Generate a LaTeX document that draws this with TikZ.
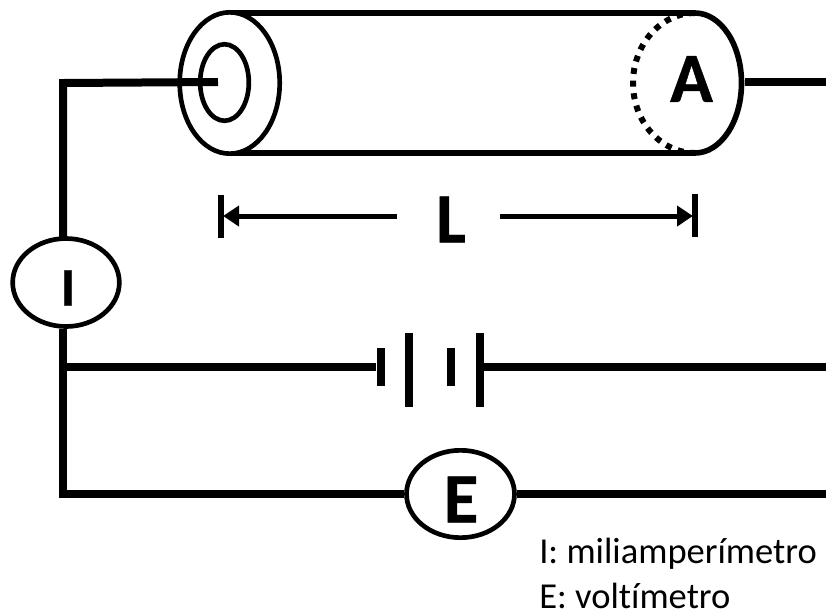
\documentclass[tikz,border=0pt]{standalone}
\usepackage{fontspec}
\setmainfont[Ligatures=NoCommon]{Carlito}
\newfontfamily\heavyfont[FakeBold=0.6]{Carlito Bold}
\usetikzlibrary{arrows.meta,shapes.geometric}
\tikzset{
  wire/.style={line width=6pt},
  outline/.style={line width=4.2pt},
  meter/.style={draw,ellipse,line width=3.5pt,inner sep=0pt,fill=white},
  plate/.style={line width=6pt},
  dimline/.style={line width=3.75pt,-{Triangle[length=12pt,width=15pt]}},
  bigletter/.style={font=\fontsize{53}{53}\heavyfont,inner sep=0pt},
  legend/.style={font=\fontsize{27.4}{32}\selectfont,inner sep=0pt,anchor=base west}
}
\begin{document}
\begin{tikzpicture}[x=0.75pt,y=-0.75pt]
  \useasboundingbox (0,0) rectangle (826,612);
  % tube
  \draw[outline] (230,13) -- (695,13);
  \draw[outline] (230,153) -- (695,153);
  \draw[outline] (695,13) arc[start angle=-90,end angle=90,x radius=46.5,y radius=70];
  \draw[line width=4.5pt,dash pattern=on 4.5pt off 5pt] (695,13)
  arc[start angle=-90,end angle=-270,x radius=62,y radius=70];
  \node[meter,minimum width=75pt,minimum height=106pt] (outer) at (229.7,83) {};
  \node[meter,minimum width=36.5pt,minimum height=57.4pt] (inner) at (224.5,82.5) {};
  \node[bigletter] (A) at (691.5,79) {A};
  % meters
  \node[meter,minimum width=80pt,minimum height=66pt] (I) at (66,282.5) {};
  \node[meter,minimum width=81pt,minimum height=65.5pt] (E) at (460.5,494) {};
  \node[font=\fontsize{41}{41}\heavyfont,inner sep=0pt] (Iname) at (68,288) {I};
  \node[bigletter] (Ename) at (461,499.5) {E};
  % wires
  \coordinate (core) at (218,82);
  \coordinate (corner) at (63,83);
  \coordinate (Astart) at (745,82);
  \coordinate (Aend) at (826,82);
  \coordinate (bat) at (376,367);
  \coordinate (tee) at (63,367);
  \coordinate (batplate) at (483,367);
  \coordinate (batend) at (826,367);
  \coordinate (low) at (63,494);
  \coordinate (Eend) at (826,494);
  \draw[wire] (core) -- (corner) -- (63,237);
  \draw[wire] (Astart) -- (Aend);
  \draw[wire] (63,329) -- (low) -- (E);
  \draw[wire] (E) -- (Eend);
  \draw[wire] (tee) -- (bat);
  \draw[wire] (batplate) -- (batend);
  % battery
  \draw[plate] (381,348) -- (381,386);
  \draw[plate] (409,333) -- (409,407);
  \draw[plate] (451,348) -- (451,386);
  \draw[plate] (480,333) -- (480,407);
  % length
  \node[bigletter] (L) at (451,219.5) {L};
  \draw[line width=4pt] (221,195) -- (221,238);
  \draw[line width=4pt] (695,194) -- (695,237);
  \draw[dimline] (397,216) -- (223,216);
  \draw[dimline] (500,216) -- (693,216);
  % legend
  \node[legend] (leg1) at (539,563) {I: miliamperímetro};
  \node[legend] (leg2) at (539,608) {E: voltímetro};
\end{tikzpicture}
\end{document}
